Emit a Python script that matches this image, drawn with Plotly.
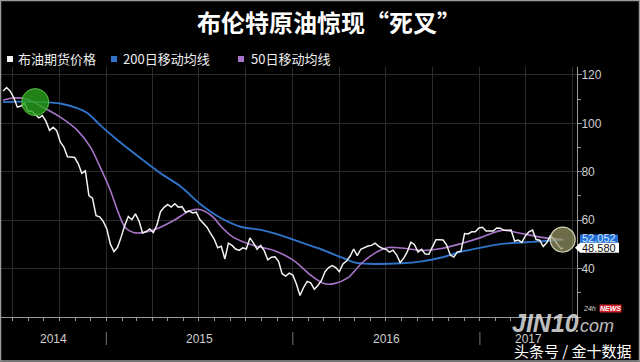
import plotly.graph_objects as go
import pandas as pd

# ---------------- data ----------------
title_text = "布伦特原油惊现“死叉”"
legend_names = ["布油期货价格", "200日移动均线", "50日移动均线"]
year_labels = ["2014", "2015", "2016", "2017"]
y_tick_values = [40, 60, 80, 100, 120]

# Brent futures, weekly readings (Fridays from 2014-06-13) plus the last print
price_values = [
    # 2014
    113.4, 114.8, 113.3, 110.6, 106.7, 107.2, 108.4, 105.0, 105.0, 103.5,
    102.3, 103.2, 100.8, 97.1, 98.4, 97.0, 92.3, 90.2, 86.2, 86.1,
    85.9, 83.4, 79.4, 80.4, 70.2, 69.1, 61.9, 61.4, 59.5,
    # 2015
    56.4, 50.1, 47.0, 48.8, 53.0, 57.8, 61.5, 60.2, 62.6, 59.7,
    54.7, 55.3, 56.4, 54.9, 57.9, 63.5, 65.3, 66.5, 65.4, 66.8,
    65.4, 65.6, 63.3, 63.9, 63.0, 63.3, 60.3, 58.7, 57.1, 54.6,
    52.2, 48.6, 49.2, 44.0, 50.5, 49.6, 48.1, 47.5, 48.6, 48.1,
    52.7, 50.5, 48.0, 49.6, 47.4, 43.6, 44.7, 44.9, 43.0, 37.9,
    36.9, 38.1,
    # 2016
    37.3, 33.6, 28.9, 32.2, 34.7, 34.1, 31.5, 33.0, 35.1, 38.7,
    40.4, 41.2, 40.4, 38.7, 41.9, 43.1, 45.1, 48.1, 45.4, 48.0,
    48.7, 49.3, 49.6, 50.5, 49.2, 48.4, 48.0, 46.8, 47.6, 45.7,
    42.5, 44.3, 47.0, 50.9, 49.9, 46.8, 48.0, 46.0, 45.9, 49.2,
    51.9, 51.95, 51.8, 49.7, 45.6, 44.8, 46.9, 47.2, 54.5, 54.3,
    55.2, 55.2, 56.8,
    # 2017
    57.1, 55.5, 55.5, 55.5, 56.8, 56.7, 55.8, 56.0, 55.9, 51.4,
    51.8, 50.8, 53.5, 55.2, 55.9, 52.0, 51.7, 49.1, 50.8, 53.6,
    52.2, 49.95, 48.15,
    # last print
    48.58,
]
price_dates = list(pd.date_range("2014-06-13", periods=len(price_values) - 1, freq="W-FRI")) \
    + [pd.Timestamp("2017-06-13")]

ma200_dates = [
    "2014-06-13", "2014-07-15", "2014-08-30", "2014-10-03", "2014-11-05", "2014-11-25",
    "2014-12-20", "2015-01-28", "2015-03-09", "2015-04-17", "2015-05-26", "2015-07-05",
    "2015-08-13", "2015-09-21", "2015-10-30", "2015-12-09", "2016-01-17", "2016-02-25",
    "2016-04-05", "2016-04-30", "2016-05-28", "2016-07-31", "2016-09-09", "2016-10-18",
    "2016-11-26", "2017-01-04", "2017-02-13", "2017-03-24", "2017-05-02", "2017-06-10",
    "2017-06-13",
]
ma200_values = [
    108.8, 109.0, 108.8, 108.2, 106.3, 104.3,
    99.3, 92.2, 85.6, 79.4, 74.0, 66.5,
    60.9, 57.3, 56.0, 53.7, 50.8, 48.0,
    44.6, 42.6, 42.0, 42.2, 43.0, 44.6,
    47.0, 48.7, 50.2, 50.8, 51.3, 51.9,
    52.05,
]

ma50_dates = [
    "2014-06-13", "2014-07-02", "2014-07-30", "2014-08-30", "2014-10-03", "2014-11-05",
    "2014-12-01", "2014-12-20", "2015-01-09", "2015-01-25", "2015-02-07", "2015-02-23",
    "2015-03-15", "2015-04-11", "2015-05-13", "2015-06-15", "2015-07-05", "2015-07-30",
    "2015-08-13", "2015-09-07", "2015-10-17", "2015-11-25", "2016-01-03", "2016-02-06",
    "2016-03-02", "2016-03-22", "2016-04-18", "2016-05-14", "2016-06-08", "2016-07-06",
    "2016-07-31", "2016-09-09", "2016-10-18", "2016-11-26", "2017-01-04", "2017-02-13",
    "2017-03-24", "2017-05-02", "2017-06-10", "2017-06-13",
]
ma50_values = [
    109.6, 110.5, 110.0, 106.7, 102.6, 97.2,
    90.2, 81.9, 72.3, 62.8, 57.0, 54.9,
    54.9, 56.6, 59.9, 64.0, 64.3, 61.1,
    57.5, 52.9, 49.5, 47.5, 43.3, 37.1,
    33.8, 33.8, 36.3, 42.1, 46.2, 48.7,
    48.5, 47.5, 48.3, 50.4, 52.9, 55.8,
    54.5, 52.9, 52.0, 51.9,
]

# highlighted crossings
cross_dates = ["2014-08-15", "2017-06-12"]
cross_values = [108.8, 52.0]

last_ma200_label = "52.052"
last_price_label = "48.580"

# ---------------- layout helpers ----------------
W, H = 640, 362
PL, PR, PT, PB = 0, 577, 67, 317          # plot area in pixels
x_range = [pd.Timestamp("2014-06-07"), pd.Timestamp("2017-07-10")]
y_range = [20, 123.3]


def px(x):
    return (x - PL) / (PR - PL)


def py(y):
    return (PB - y) / (PB - PT)


def units(pixels):
    return pixels * (y_range[1] - y_range[0]) / (PB - PT)


WHITE = "#f2f2f2"
BLUE = "#2f74c8"
PURPLE = "#a774c8"
GRID = "#2b2b2b"
AXIS = "#9a9a9a"
TXT = "#cfcfcf"

fig = go.Figure()
fig.add_trace(go.Scatter(x=ma200_dates, y=ma200_values, mode="lines",
                         line=dict(color=BLUE, width=1.9, shape="spline", smoothing=0.8),
                         name=legend_names[1], hoverinfo="skip"))
fig.add_trace(go.Scatter(x=ma50_dates, y=ma50_values, mode="lines",
                         line=dict(color=PURPLE, width=1.6, shape="spline", smoothing=0.8),
                         name=legend_names[2], hoverinfo="skip"))
fig.add_trace(go.Scatter(x=price_dates, y=price_values, mode="lines",
                         line=dict(color=WHITE, width=1.5),
                         name=legend_names[0], hoverinfo="skip"))
fig.add_trace(go.Scatter(x=cross_dates[:1], y=cross_values[:1], mode="markers",
                         marker=dict(size=27, color="rgba(40,160,28,0.82)",
                                     line=dict(color="rgba(90,200,70,0.9)", width=1)),
                         hoverinfo="skip"))
fig.add_trace(go.Scatter(x=cross_dates[1:], y=cross_values[1:], mode="markers",
                         marker=dict(size=25, color="rgba(150,150,100,0.72)",
                                     line=dict(color="rgba(225,225,200,0.9)", width=1.2)),
                         hoverinfo="skip"))

shapes = []
# year separators under the axis
for yr in year_labels[1:]:
    shapes.append(dict(type="line", xref="x", yref="paper", x0=f"{yr}-01-01", x1=f"{yr}-01-01",
                       y0=py(332), y1=py(345), line=dict(color="#777", width=1)))
# legend squares
for cx, col in [(10, WHITE), (114, BLUE), (241, PURPLE)]:
    shapes.append(dict(type="rect", xref="paper", yref="paper",
                       x0=px(cx - 3), x1=px(cx + 3), y0=py(62), y1=py(56),
                       fillcolor=col, line=dict(width=0)))
# last value boxes
shapes.append(dict(type="rect", xref="paper", yref="y", x0=px(580), x1=px(618),
                   y0=ma200_values[-1] - units(5), y1=ma200_values[-1] + units(5),
                   fillcolor="#1f6fd6", line=dict(width=0), layer="above"))
shapes.append(dict(type="rect", xref="paper", yref="y", x0=px(580), x1=px(619),
                   y0=price_values[-1] - units(5), y1=price_values[-1] + units(5),
                   fillcolor="#ffffff", line=dict(width=0), layer="above"))
shapes.append(dict(type="path", xref="paper", yref="y", layer="above",
                   path=f"M {px(580)},{price_values[-1] + units(5)} L {px(575)},{price_values[-1]} "
                        f"L {px(580)},{price_values[-1] - units(5)} Z",
                   fillcolor="#ffffff", line=dict(width=0)))
# thin frame round the picture
shapes.append(dict(type="rect", xref="paper", yref="paper",
                   x0=px(0.5), x1=px(639.5), y0=py(361), y1=py(0.5),
                   line=dict(color="#9a9a9a", width=1.5)))

annotations = []
# legend text
for x0, name in [(16, legend_names[0]), (121, legend_names[1]), (249, legend_names[2])]:
    annotations.append(dict(xref="paper", yref="paper", x=px(x0), y=py(59),
                            xanchor="left", yanchor="middle", showarrow=False, text=name,
                            font=dict(size=13, color="#eeeeee", family="Noto Sans CJK SC")))
# year labels centred in their visible span
for yr in year_labels:
    s = max(pd.Timestamp(f"{yr}-01-01"), x_range[0])
    e = min(pd.Timestamp(f"{int(yr) + 1}-01-01"), x_range[1])
    annotations.append(dict(xref="x", yref="paper", x=s + (e - s) / 2, y=py(339),
                            xanchor="center", yanchor="middle", showarrow=False, text=yr,
                            font=dict(size=12, color=TXT, family="Liberation Sans")))
# last value texts
annotations.append(dict(xref="paper", yref="y", x=px(599), y=ma200_values[-1] + units(1),
                        showarrow=False, text=last_ma200_label, xanchor="center", yanchor="middle",
                        font=dict(size=11, color="#cfe2ff", family="Liberation Sans")))
annotations.append(dict(xref="paper", yref="y", x=px(599), y=price_values[-1],
                        showarrow=False, text=last_price_label, xanchor="center", yanchor="middle",
                        font=dict(size=11, color="#111111", family="Liberation Sans")))
# watermark
annotations.append(dict(xref="paper", yref="paper", x=px(545), y=py(323), showarrow=False,
                        text="<i><b>JIN10</b></i>", xanchor="center", yanchor="middle",
                        font=dict(size=25, color="rgba(225,225,225,0.85)", family="Liberation Sans")))
annotations.append(dict(xref="paper", yref="paper", x=px(573), y=py(326), showarrow=False,
                        text="<i>.com</i>", xanchor="left", yanchor="middle",
                        font=dict(size=18, color="rgba(225,225,225,0.85)", family="Liberation Sans")))
annotations.append(dict(xref="paper", yref="paper", x=px(598), y=py(308), showarrow=False,
                        text="<i>24h</i>", xanchor="right", yanchor="middle",
                        font=dict(size=7, color="#dddddd", family="Liberation Sans")))
annotations.append(dict(xref="paper", yref="paper", x=px(599), y=py(308), showarrow=False,
                        text="<i><b>NEWS</b></i>", xanchor="left", yanchor="middle", bgcolor="#d0232a",
                        borderpad=0, font=dict(size=7, color="#ffffff", family="Liberation Sans")))
annotations.append(dict(xref="paper", yref="paper", x=px(573), y=py(350), showarrow=False,
                        text="头条号 / 金十数据", xanchor="center", yanchor="middle",
                        font=dict(size=15, color="#ffffff", family="Noto Sans CJK SC")))

fig.update_layout(
    width=W, height=H,
    margin=dict(l=PL, r=W - PR, t=PT, b=H - PB, pad=0),
    paper_bgcolor="#000000", plot_bgcolor="#000000",
    showlegend=False,
    title=dict(text=f"<b>{title_text}</b>", x=329 / W, y=1 - 24 / H, xanchor="center", yanchor="middle",
               xref="container", yref="container",
               font=dict(size=24, color="#ffffff", family="Noto Sans CJK SC")),
    xaxis=dict(type="date", range=x_range, showticklabels=False,
               tickvals=list(pd.date_range("2014-07-01", "2017-07-01", freq="QS")),
               ticks="outside", ticklen=3, tickcolor=AXIS,
               showgrid=True, gridcolor=GRID, gridwidth=1, zeroline=False,
               showline=True, linecolor=AXIS, linewidth=1,
               minor=dict(dtick="M1", tick0="2014-01-01", ticks="outside", ticklen=3,
                          tickcolor=AXIS, showgrid=False)),
    yaxis=dict(side="right", range=y_range, tickvals=y_tick_values,
               ticks="outside", ticklen=4, tickcolor=AXIS, ticklabelstandoff=-3,
               tickfont=dict(size=12, color=TXT, family="Liberation Sans"),
               showgrid=True, gridcolor=GRID, gridwidth=1, zeroline=False,
               showline=True, linecolor=AXIS, linewidth=1,
               minor=dict(dtick=10, tick0=0, ticks="outside", ticklen=3, tickcolor=AXIS, showgrid=False)),
    shapes=shapes,
    annotations=annotations,
)

fig.write_html(
    "out.html",
    config={"displayModeBar": False},
    post_script="document.body.style.margin='0';document.body.style.background='#000';",
)
